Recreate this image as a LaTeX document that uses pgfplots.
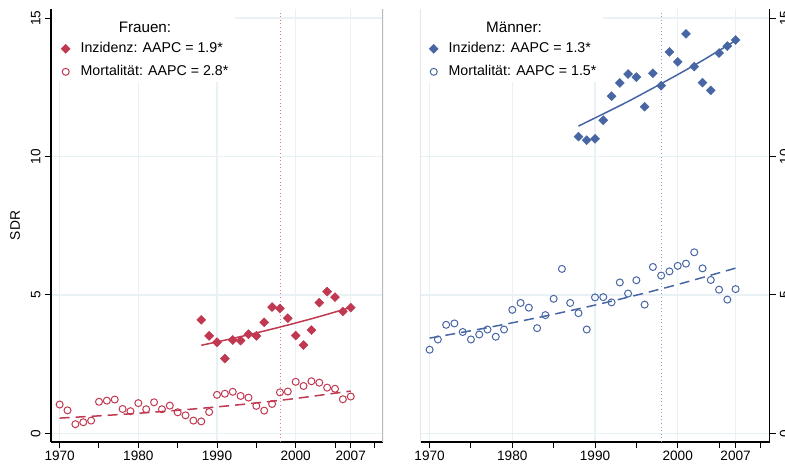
\documentclass[border=0pt]{standalone}
\usepackage{pgfplots}
\pgfplotsset{compat=1.18}
\usepackage{fontspec}
\setmainfont{Liberation Sans}
\definecolor{fr}{RGB}{192,57,80}
\definecolor{frl}{RGB}{228,120,140}
\definecolor{ma}{RGB}{72,102,164}
\definecolor{mal}{RGB}{140,160,205}
\definecolor{gridc}{RGB}{232,241,243}
\definecolor{bord}{RGB}{185,185,185}
\pgfplotsset{
  panel/.style={
    scale only axis, height=216.5pt,
    xmin=1968.9, xmax=2011.1, ymin=-0.314, ymax=15.33,
    xtick={1970,1980,1990,2000,2007}, xticklabels={1970,1980,1990,2000,2007},
    minor xtick={1975,1985,1995,2005,2010},
    ytick={0,5,10,15}, yticklabels={0,5,10,15},
    grid=major, major grid style={gridc, line width=0.7pt},
    tick align=outside, major tick length=3pt, minor tick length=3pt,
    tick style={black, line width=0.5pt},
    axis line style={black, line width=0.6pt},
    tick label style={font=\fontsize{6.8}{7.5}\selectfont},
    /pgf/number format/assume math mode=true,
    xticklabel style={inner sep=1.5pt},
    legend image code/.code={\draw[#1] plot coordinates {(0pt,0pt)};},
    legend style={draw=none, fill=none, font=\fontsize{7.1}{8.5}\selectfont,
      anchor=north west, inner sep=0pt, row sep=5pt, column sep=5.2pt,
      nodes={inner sep=0pt, text height=5.3pt, text depth=1.2pt}},
    legend cell align=left,
  },
  inc/.style={only marks, mark=square*, mark size=1.6pt, mark options={rotate=45, line width=0.2pt}},
  mort/.style={only marks, mark=o, mark size=1.75pt, mark options={line width=0.5pt}},
}
\begin{document}
\begin{tikzpicture}
\path[use as bounding box] (0,0) rectangle (392.5pt,233.5pt);
% ---------- Frauen ----------
\begin{axis}[panel, width=166pt, at={(25.5pt,12.5pt)}, anchor=south west,
  axis lines*=left,
  yticklabel style={rotate=90, anchor=south, inner sep=2pt},
  ylabel={SDR}, ylabel style={font=\fontsize{6.9}{8}\selectfont},
  legend style={at={(0.0295,0.924)}}]
\fill[white] (rel axis cs:0.004,0.831) rectangle (rel axis cs:0.554,1);
\draw[bord, line width=0.6pt] (rel axis cs:1,0) -- (rel axis cs:1,1);
\addplot[frl, line width=0.4pt, dash pattern=on 0.5pt off 1.3pt, forget plot] coordinates {(1998,-0.314) (1998,15.21)};
\addplot[inc, color=fr] coordinates {
(1988,4.10) (1989,3.52) (1990,3.29) (1991,2.70) (1992,3.37) (1993,3.35) (1994,3.58)
(1995,3.52) (1996,4.01) (1997,4.56) (1998,4.51) (1999,4.16) (2000,3.53) (2001,3.19)
(2002,3.73) (2003,4.72) (2004,5.12) (2005,4.92) (2006,4.40) (2007,4.54)};
\addlegendentry{Inzidenz: AAPC = 1.9*}
\addplot[mort, color=fr] coordinates {
(1970,1.04) (1971,0.83) (1972,0.33) (1973,0.40) (1974,0.46) (1975,1.14) (1976,1.18)
(1977,1.22) (1978,0.88) (1979,0.80) (1980,1.09) (1981,0.87) (1982,1.12) (1983,0.87)
(1984,1.00) (1985,0.76) (1986,0.65) (1987,0.46) (1988,0.43) (1989,0.77) (1990,1.39)
(1991,1.43) (1992,1.50) (1993,1.35) (1994,1.29) (1995,0.99) (1996,0.82) (1997,1.06)
(1998,1.48) (1999,1.51) (2000,1.86) (2001,1.71) (2002,1.88) (2003,1.83) (2004,1.65)
(2005,1.61) (2006,1.23) (2007,1.33)};
\addlegendentry{Mortalität: AAPC = 2.8*}
\addplot[fr, line width=0.75pt, smooth, forget plot] coordinates {
(1988,3.18) (1991,3.365) (1994,3.56) (1997,3.767) (2000,3.986) (2003,4.217) (2007,4.547)};
\addplot[fr, line width=0.75pt, dash pattern=on 5pt off 3pt, smooth, forget plot] coordinates {
(1970,0.55) (1975,0.631) (1980,0.725) (1985,0.832) (1990,0.955) (1995,1.097) (2000,1.259) (2007,1.527)};
\node[font=\fontsize{7.6}{9}\selectfont] at (rel axis cs:0.283,0.958) {Frauen:};
\end{axis}
% ---------- Maenner ----------
\begin{axis}[panel, width=174.5pt, at={(210.25pt,12.5pt)}, anchor=south west,
  axis x line*=bottom, axis y line*=right,
  yticklabel style={rotate=90, anchor=north, inner sep=2pt},
  legend style={at={(0.0238,0.924)}}]
\fill[white] (rel axis cs:0,0.831) rectangle (rel axis cs:0.523,1);
\draw[bord, line width=0.6pt] (rel axis cs:0,0) -- (rel axis cs:0,1);
\addplot[mal, line width=0.4pt, dash pattern=on 0.5pt off 1.3pt, forget plot] coordinates {(1998,-0.314) (1998,15.21)};
\addplot[inc, color=ma] coordinates {
(1988,10.72) (1989,10.59) (1990,10.64) (1991,11.31) (1992,12.18) (1993,12.66) (1994,12.98)
(1995,12.87) (1996,11.80) (1997,13.01) (1998,12.56) (1999,13.78) (2000,13.42) (2001,14.43)
(2002,13.25) (2003,12.67) (2004,12.39) (2005,13.74) (2006,13.99) (2007,14.21)};
\addlegendentry{Inzidenz: AAPC = 1.3*}
\addplot[mort, color=ma] coordinates {
(1970,3.02) (1971,3.39) (1972,3.92) (1973,3.97) (1974,3.66) (1975,3.39) (1976,3.57)
(1977,3.75) (1978,3.49) (1979,3.75) (1980,4.46) (1981,4.71) (1982,4.54) (1983,3.80)
(1984,4.27) (1985,4.86) (1986,5.94) (1987,4.71) (1988,4.34) (1989,3.75) (1990,4.91)
(1991,4.92) (1992,4.73) (1993,5.45) (1994,5.05) (1995,5.53) (1996,4.65) (1997,6.01)
(1998,5.70) (1999,5.85) (2000,6.05) (2001,6.13) (2002,6.54) (2003,5.96) (2004,5.54)
(2005,5.19) (2006,4.83) (2007,5.21)};
\addlegendentry{Mortalität: AAPC = 1.5*}
\addplot[ma, line width=0.75pt, smooth, forget plot] coordinates {
(1988,11.10) (1991,11.54) (1994,11.99) (1997,12.47) (2000,12.96) (2003,13.47) (2007,14.19)};
\addplot[ma, line width=0.75pt, dash pattern=on 5pt off 3pt, smooth, forget plot] coordinates {
(1970,3.44) (1975,3.706) (1980,3.992) (1985,4.301) (1990,4.633) (1995,4.991) (2000,5.377) (2007,5.968)};
\node[font=\fontsize{7.6}{9}\selectfont] at (rel axis cs:0.268,0.958) {Männer:};
\end{axis}
\end{tikzpicture}
\end{document}
